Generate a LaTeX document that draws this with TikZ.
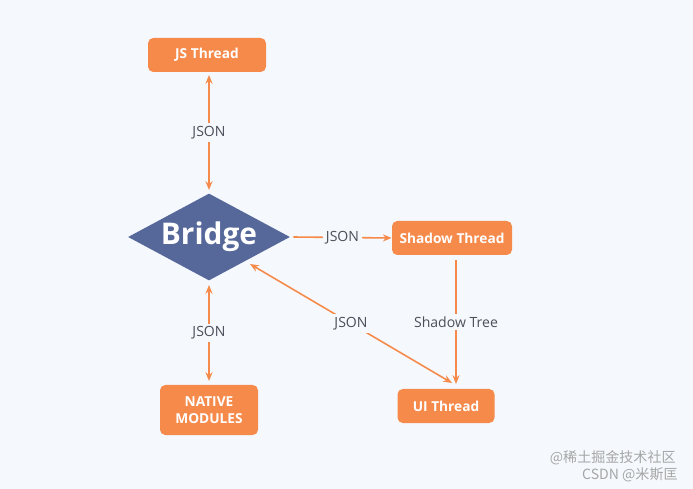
\documentclass[tikz,border=0pt]{standalone}
\usepackage{fontspec}
\setmainfont{Open Sans}
\newfontfamily\cjk{Noto Sans CJK SC}
\usetikzlibrary{shapes.geometric,arrows.meta}
\definecolor{bgblue}{HTML}{F5F9FD}
\definecolor{boxorange}{HTML}{F58A4B}
\definecolor{bridgeblue}{HTML}{56679A}
\definecolor{labelgray}{HTML}{4A4F5A}

\tikzset{
  thread/.style={rectangle, rounded corners=3pt, fill=boxorange, text=white,
    font=\bfseries\fontsize{7.8}{9.5}\selectfont, align=center, inner sep=0pt},
  link/.style={draw=boxorange, line width=0.9pt, -{Stealth[length=5pt,width=4pt]}},
  tag/.style={fill=bgblue, text=labelgray, font=\fontsize{8}{10}\selectfont, inner sep=1.5pt}
}

\begin{document}
\begin{tikzpicture}[x=0.02cm,y=-0.02cm]

  \fill[bgblue] (0,0) rectangle (693,489);

  % threads
  \node[thread, minimum width=118*0.02cm, minimum height=34*0.02cm] (js) at (207,55) {JS Thread};
  \node[thread, minimum width=120*0.02cm, minimum height=34*0.02cm] (shadow) at (452,238) {Shadow Thread};
  \node[thread, minimum width=98*0.02cm, minimum height=50*0.02cm] (native) at (209,410) {NATIVE\\MODULES};
  \node[thread, minimum width=97*0.02cm, minimum height=34*0.02cm] (ui) at (446,406) {UI Thread};

  % bridge
  \node[diamond, fill=bridgeblue, text=white, font=\bfseries\fontsize{17}{20}\selectfont,
    minimum width=162*0.02cm, minimum height=87*0.02cm, aspect=1.86, inner sep=0pt] (bridge) at (209,237) {Bridge};

  % connectors
  \draw[link, {Stealth[length=5pt,width=4pt]}-{Stealth[length=5pt,width=4pt]}]
    (209,75) -- node[tag] {JSON} (209,190);
  \draw[link] (bridge.east) ++(3,0) -- node[tag] {JSON} (shadow.west);
  \draw[link] (456,260) -- node[tag] {Shadow Tree} (456,384);
  \draw[link, {Stealth[length=5pt,width=4pt]}-{Stealth[length=5pt,width=4pt]}]
    (250,264) -- node[tag, pos=0.5] {JSON} (452,383);
  \draw[link, {Stealth[length=5pt,width=4pt]}-{Stealth[length=5pt,width=4pt]}]
    (209,285) -- node[tag] {JSON} (209,381);

  % watermark
  \node[text=gray!70, font=\cjk\fontsize{8}{10}\selectfont, anchor=east, inner sep=0pt] (wm1) at (676,458) {@稀土掘金技术社区};
  \node[text=gray!70, font=\cjk\fontsize{8}{10}\selectfont, anchor=east, inner sep=0pt] (wm2) at (678,475) {CSDN @米斯匡};

\end{tikzpicture}
\end{document}
